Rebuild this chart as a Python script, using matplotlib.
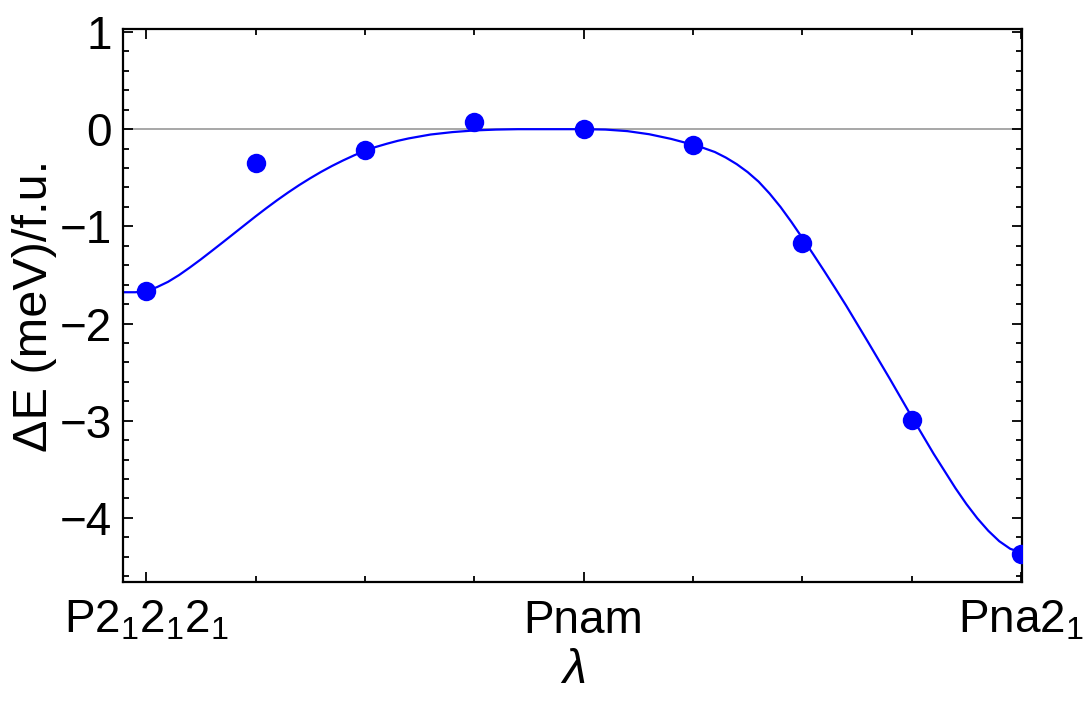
import matplotlib
matplotlib.use("Agg")
import matplotlib.pyplot as plt
from matplotlib.ticker import FixedLocator, MultipleLocator

plt.rcParams['font.family'] = ['Liberation Sans', 'DejaVu Sans']
plt.rcParams['mathtext.fontset'] = 'custom'
plt.rcParams['mathtext.rm'] = 'Liberation Sans'
plt.rcParams['mathtext.it'] = 'Liberation Sans:italic'

# DFT points
lam_pts = [-1.0, -0.75, -0.5, -0.25, 0.0, 0.25, 0.5, 0.75, 1.0]
dE_pts = [-1.67, -0.345, -0.21, 0.078, 0.0, -0.162, -1.17, -2.99, -4.37]

# fitted curve
lam_fit = [-1.053, -1.025, -1.0, -0.975, -0.95, -0.925, -0.9, -0.875, -0.85, -0.825,
           -0.8, -0.775, -0.75, -0.725, -0.7, -0.675, -0.65, -0.625, -0.6, -0.575,
           -0.55, -0.525, -0.5, -0.475, -0.45, -0.425, -0.4, -0.35, -0.3, -0.25,
           -0.2, -0.15, -0.1, -0.05, 0.0, 0.05, 0.1, 0.15, 0.2, 0.25, 0.275, 0.3,
           0.325, 0.35, 0.375, 0.4, 0.425, 0.45, 0.475, 0.5, 0.525, 0.55, 0.575, 0.6,
           0.65, 0.7, 0.75, 0.8, 0.85, 0.875, 0.9, 0.925, 0.95, 0.975, 1.0, 1.002]
dE_fit = [-1.678, -1.678, -1.668, -1.625, -1.571, -1.502, -1.423, -1.340, -1.253, -1.165,
          -1.076, -0.987, -0.898, -0.812, -0.729, -0.650, -0.575, -0.505, -0.439, -0.378,
          -0.322, -0.270, -0.222, -0.183, -0.150, -0.120, -0.095, -0.055, -0.030, -0.013,
          -0.004, 0.0, 0.0, 0.0, 0.0, -0.004, -0.020, -0.052, -0.100, -0.160, -0.195, -0.235,
          -0.292, -0.360, -0.442, -0.540, -0.662, -0.800, -0.955, -1.120, -1.288, -1.460,
          -1.636, -1.815, -2.190, -2.570, -2.960, -3.340, -3.695, -3.858, -4.005, -4.133,
          -4.240, -4.318, -4.358, -4.360]

xtick_pos = [-1, 0, 1]
xtick_lab = [r'P$2_1 2_1 2_1$', 'Pnam', r'Pna$2_1$']
xminor = [-0.75, -0.5, -0.25, 0.25, 0.5, 0.75]
ytick_pos = [-4, -3, -2, -1, 0, 1]

fig = plt.figure(figsize=(10.9, 7.04), dpi=100)
ax = fig.add_axes([0.1128, 0.1733, 0.9376 - 0.1128, 0.9588 - 0.1733])

ax.axhline(0, color='#a0a0a0', lw=1.3, zorder=1)
ax.plot(lam_fit, dE_fit, color='#0000ff', lw=1.6, zorder=2)
ax.plot(lam_pts, dE_pts, 'o', color='#0000ff', ms=14, mew=0, zorder=3)

ax.set_xlim(-1.053, 1.002)
ax.set_ylim(-4.66, 1.031)

ax.xaxis.set_major_locator(FixedLocator(xtick_pos))
ax.xaxis.set_minor_locator(FixedLocator(xminor))
ax.set_xticklabels(xtick_lab)
ax.yaxis.set_major_locator(FixedLocator(ytick_pos))
ax.yaxis.set_minor_locator(MultipleLocator(0.2))

ax.tick_params(which='both', direction='in', top=True, right=True, width=1.3,
               labelsize=33)
ax.tick_params(axis='x', pad=12)
ax.tick_params(axis='y', pad=8)
ax.tick_params(which='major', length=7)
ax.tick_params(which='minor', length=4)
for s in ax.spines.values():
    s.set_linewidth(1.6)

ax.set_xlabel(r'$\lambda$', fontsize=35, labelpad=4)
ax.set_ylabel(r'ΔE (meV)/f.u.', fontsize=35, labelpad=2)

fig.savefig('out.png', dpi=100)
